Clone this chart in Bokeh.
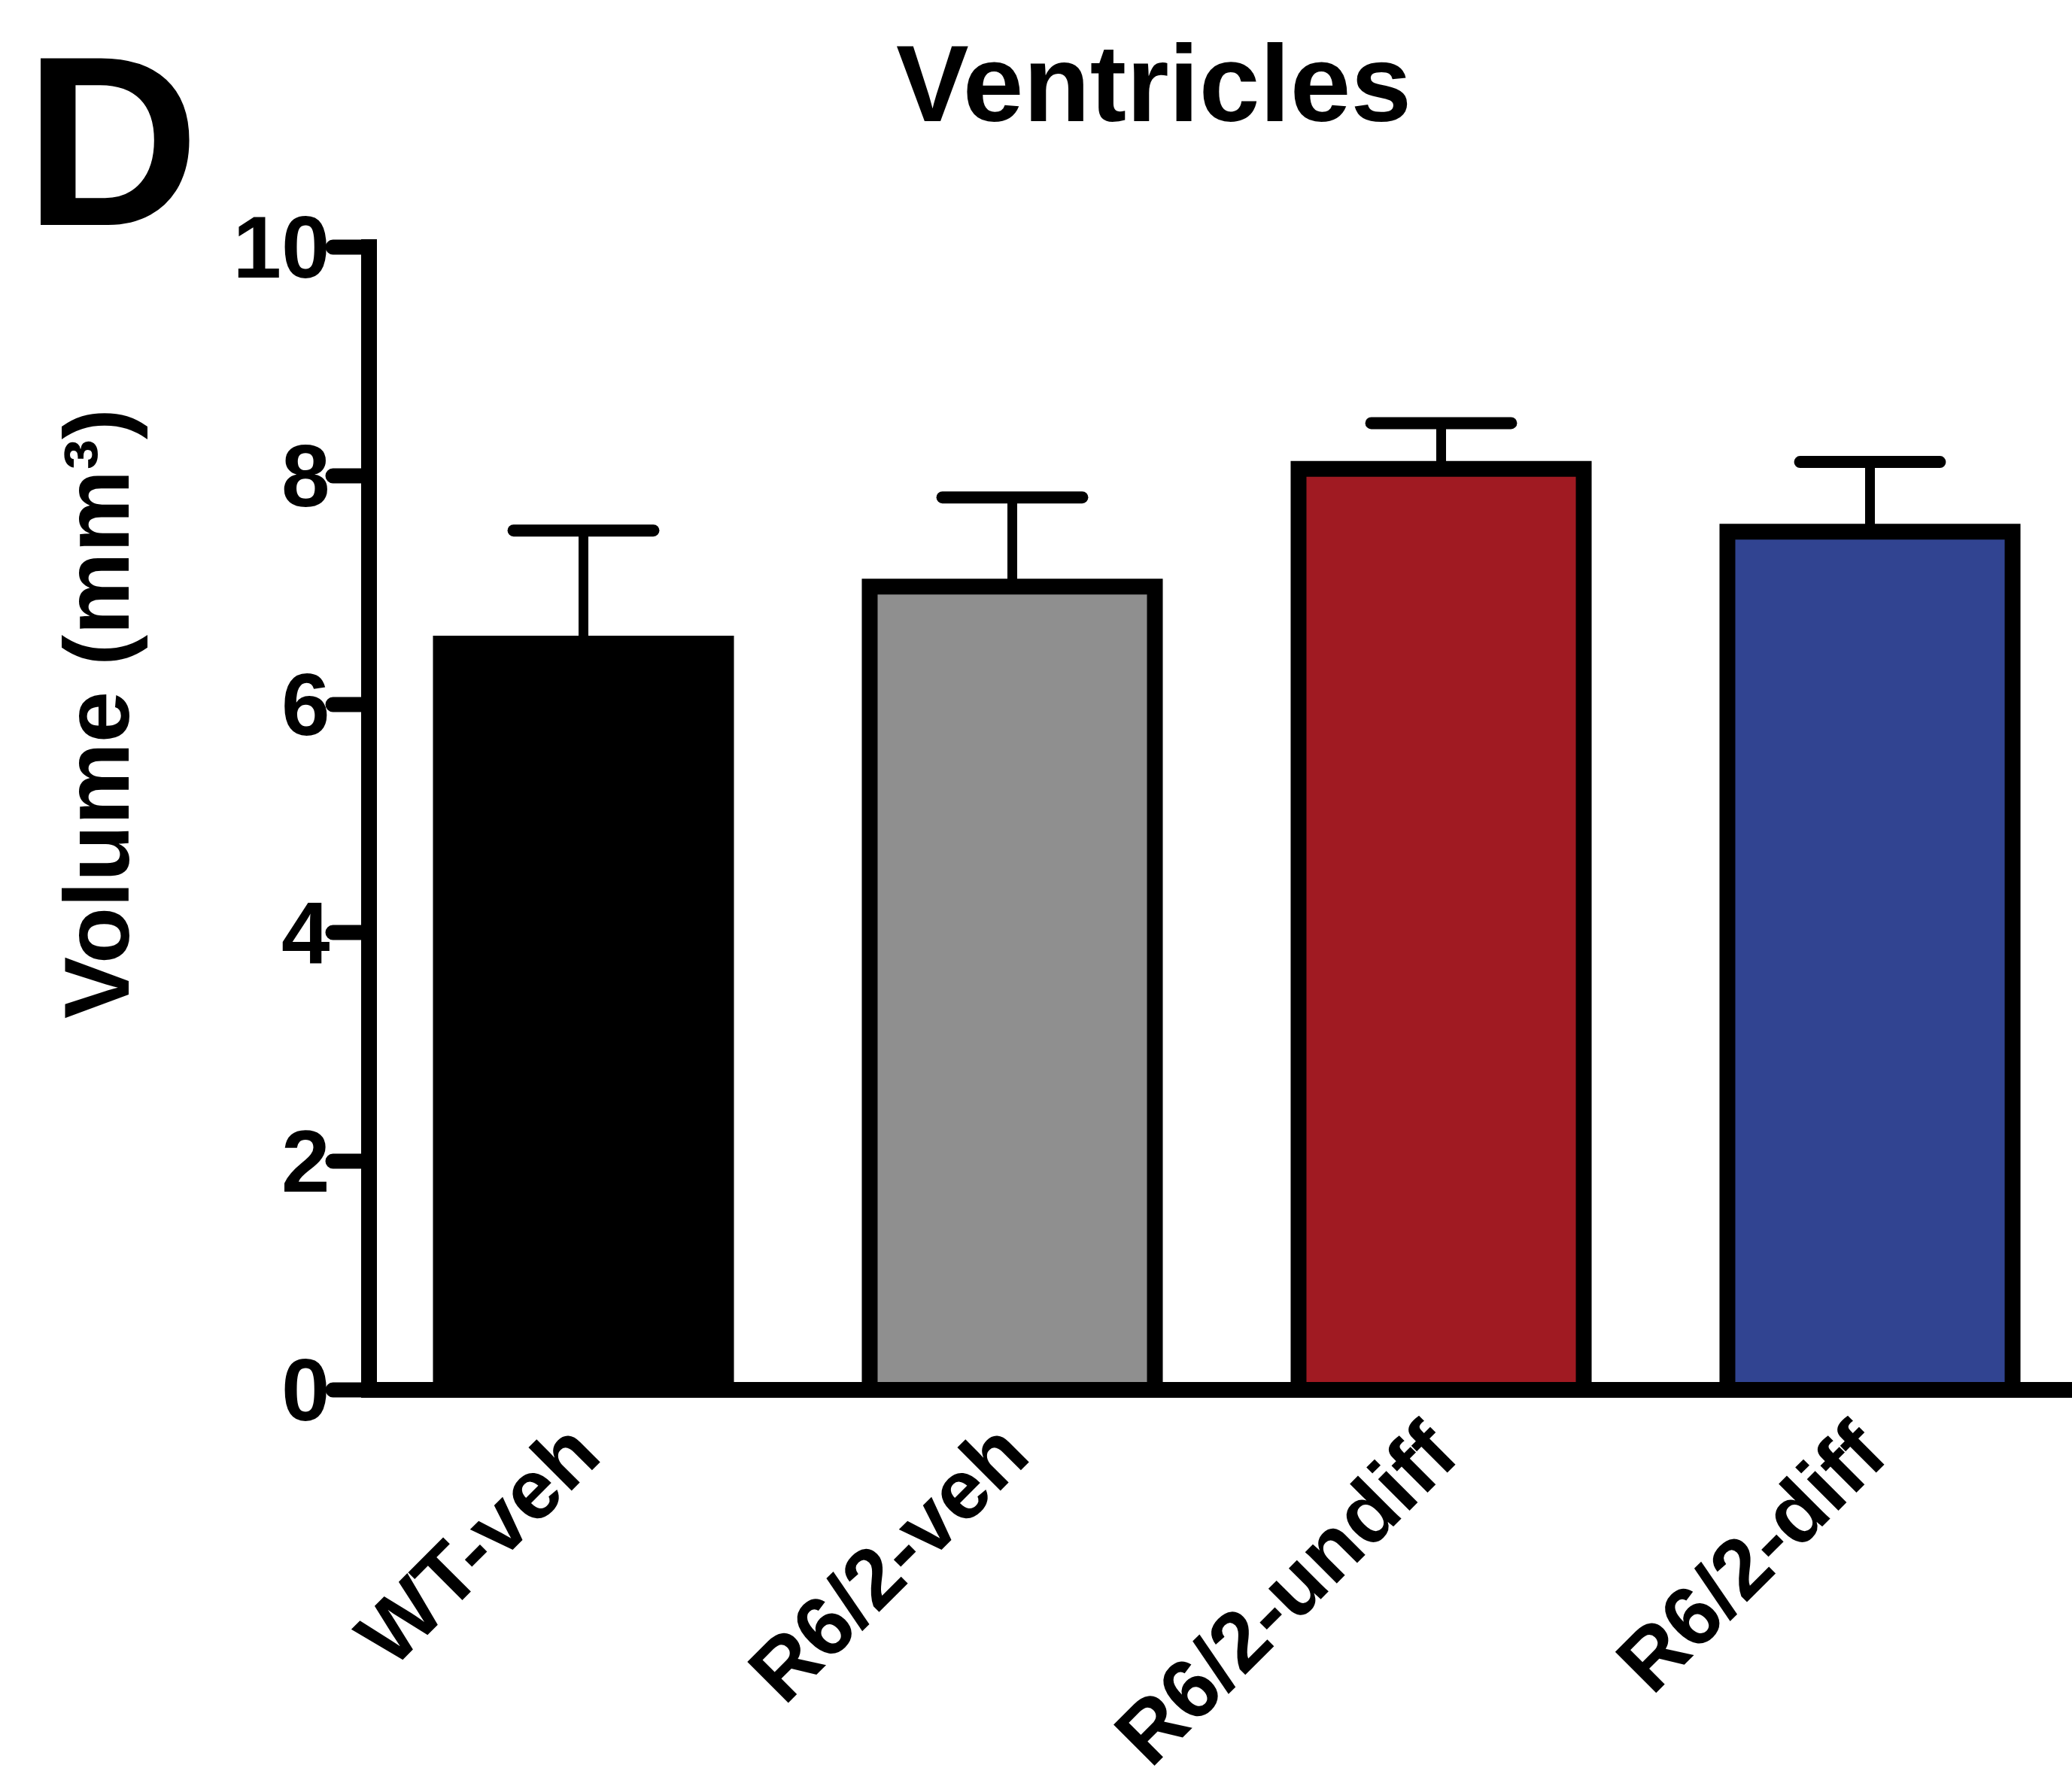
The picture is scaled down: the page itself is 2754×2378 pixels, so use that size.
import math
from bokeh.plotting import figure
from bokeh.models import Range1d, FixedTicker, Label, ColumnDataSource
from bokeh.embed import file_html
from bokeh.resources import INLINE

# ---- data ----
categories = ["WT-veh", "R6/2-veh", "R6/2-undiff", "R6/2-diff"]
means = [6.53, 7.03, 8.06, 7.51]
sems = [0.99, 0.78, 0.40, 0.61]
colors = ["#000000", "#8f8f8f", "#a01a22", "#314491"]
y_ticks = [0, 2, 4, 6, 8, 10]
title_text = "Ventricles"
panel_letter = "D"
y_label = "Volume (mm³)"

# ---- layout (canvas pixels) ----
W, H = 2754, 2378
AXIS_X, AXIS_Y = 490, 1847      # canvas position of the data origin
PX_X, PX_Y = 570.0, 151.9       # pixels per data unit
FONT = "Liberation Sans"
BAR_W = 0.665
CAP_HALF = 0.163

x_pos = [i + 0.5 for i in range(len(categories))]
tops = [m + s for m, s in zip(means, sems)]

src = ColumnDataSource(dict(
    x=x_pos, cat=categories, mean=means, top=tops, color=colors,
    cl=[x - CAP_HALF for x in x_pos], cr=[x + CAP_HALF for x in x_pos],
))

x_range = Range1d(-AXIS_X / PX_X, (W - AXIS_X) / PX_X)
y_range = Range1d(-(H - AXIS_Y) / PX_Y, AXIS_Y / PX_Y)

p = figure(width=W, height=H, x_range=x_range, y_range=y_range,
           output_backend="svg", toolbar_location=None,
           min_border=0, min_border_left=0, min_border_right=0,
           min_border_top=0, min_border_bottom=0)
p.title.visible = False
p.background_fill_color = "white"
p.border_fill_color = "white"
p.outline_line_color = None
p.xgrid.visible = False
p.ygrid.visible = False

p.vbar(x="x", width=BAR_W, top="mean", bottom=0, source=src,
       fill_color="color", line_color="black", line_width=21, line_join="miter")
p.segment(x0="x", y0="mean", x1="x", y1="top", source=src,
          line_width=13, line_color="black")
p.segment(x0="cl", y0="top", x1="cr", y1="top", source=src,
          line_width=16, line_color="black", line_cap="round")

# x axis at y = 0 with rotated category labels
xa = p.xaxis[0]
xa.fixed_location = 0
xa.bounds = (0, (W - AXIS_X) / PX_X)
xa.ticker = FixedTicker(ticks=x_pos)
xa.major_label_overrides = {x: c for x, c in zip(x_pos, categories)}
xa.major_label_orientation = math.pi / 4
xa.axis_line_width = 21
xa.axis_line_cap = "square"
xa.major_tick_line_color = None
xa.minor_tick_line_color = None
xa.major_tick_out = 0
xa.major_tick_in = 0
xa.major_label_standoff = 64
xa.major_label_text_font = FONT
xa.major_label_text_font_style = "bold"
xa.major_label_text_font_size = "112px"
xa.major_label_text_color = "black"

# y axis at x = 0
ya = p.yaxis[0]
ya.fixed_location = 0
ya.bounds = (0, 10)
ya.ticker = FixedTicker(ticks=y_ticks)
ya.axis_line_width = 21
ya.axis_line_cap = "square"
ya.major_tick_out = 48
ya.major_tick_in = 0
ya.major_tick_line_width = 20
ya.major_tick_line_cap = "round"
ya.minor_tick_line_color = None
ya.major_label_text_font = FONT
ya.major_label_text_font_style = "bold"
ya.major_label_text_font_size = "116px"
ya.major_label_text_color = "black"
ya.major_label_standoff = 4

# texts (screen units: from the canvas bottom-left, the frame fills the canvas)
p.add_layout(Label(x=1533, y=H - 110, x_units="screen", y_units="screen",
                   text=title_text, text_align="center", text_baseline="alphabetic",
                   text_font=FONT, text_font_style="bold", text_font_size="145px",
                   text_color="black"))
p.add_layout(Label(x=32, y=H - 187, x_units="screen", y_units="screen",
                   text=panel_letter, text_align="left", text_baseline="alphabetic",
                   text_font=FONT, text_font_style="bold", text_font_size="322px",
                   text_color="black"))
p.add_layout(Label(x=128, y=H - 948, x_units="screen", y_units="screen",
                   text=y_label, angle=math.pi / 2,
                   text_align="center", text_baseline="alphabetic",
                   text_font=FONT, text_font_style="bold", text_font_size="123px",
                   text_color="black"))

open("out.html", "w").write(file_html(p, INLINE))
